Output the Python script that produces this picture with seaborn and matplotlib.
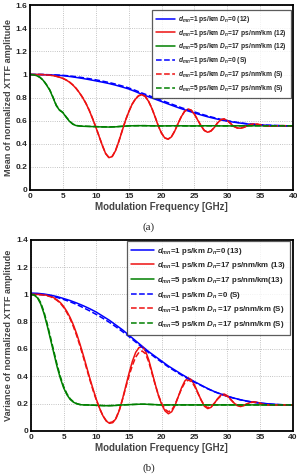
import numpy as np
import pandas as pd
import matplotlib
matplotlib.use('Agg')
import matplotlib.pyplot as plt
import seaborn as sns

# frequency grids [GHz]
freq_coarse = list(range(0, 41))
freq_fine = [i * 0.5 for i in range(81)]

# (a) mean of normalized XTTF amplitude
mean_blue_12 = [1.0, 1.0, 0.999, 0.997, 0.994, 0.99, 0.983, 0.975, 0.966, 0.956,
                0.945, 0.934, 0.922, 0.908, 0.892, 0.875, 0.853, 0.829, 0.808, 0.787,
                0.766, 0.745, 0.724, 0.704, 0.685, 0.667, 0.65, 0.634, 0.62, 0.607,
                0.596, 0.587, 0.579, 0.572, 0.567, 0.563, 0.56, 0.558, 0.557, 0.556, 0.556]
mean_blue_s = [1.0, 1.0, 1.0, 0.998, 0.996, 0.993, 0.988, 0.981, 0.973, 0.964,
               0.954, 0.943, 0.931, 0.917, 0.901, 0.884, 0.863, 0.84, 0.819, 0.797,
               0.776, 0.755, 0.734, 0.713, 0.694, 0.676, 0.658, 0.641, 0.626, 0.612,
               0.6, 0.59, 0.581, 0.574, 0.568, 0.564, 0.561, 0.559, 0.557, 0.556, 0.556]
mean_red_12 = [1.0, 1.0, 1.0, 1.0, 0.999, 0.997, 0.994, 0.99, 0.984, 0.976,
               0.966, 0.952, 0.934, 0.91, 0.88, 0.843, 0.80, 0.75, 0.69, 0.62,
               0.545, 0.465, 0.385, 0.315, 0.28, 0.29, 0.34, 0.42, 0.51, 0.6,
               0.675, 0.74, 0.785, 0.815, 0.825, 0.81, 0.77, 0.71, 0.635, 0.555,
               0.49, 0.45, 0.44, 0.46, 0.51, 0.575, 0.635, 0.68, 0.70, 0.69,
               0.655, 0.605, 0.555, 0.515, 0.50, 0.51, 0.54, 0.58, 0.608, 0.615,
               0.6, 0.575, 0.55, 0.537, 0.535, 0.542, 0.555, 0.566, 0.571, 0.57,
               0.564, 0.558, 0.554, 0.553, 0.554, 0.556, 0.557, 0.557, 0.556, 0.556, 0.556]
mean_red_s = [1.0, 1.0, 1.0, 1.0, 0.999, 0.997, 0.995, 0.991, 0.985, 0.977,
              0.967, 0.953, 0.935, 0.911, 0.881, 0.844, 0.801, 0.751, 0.691, 0.621,
              0.546, 0.466, 0.386, 0.316, 0.281, 0.291, 0.341, 0.421, 0.511, 0.601,
              0.676, 0.741, 0.787, 0.817, 0.827, 0.812, 0.772, 0.712, 0.637, 0.557,
              0.492, 0.451, 0.441, 0.461, 0.511, 0.576, 0.636, 0.682, 0.702, 0.692,
              0.657, 0.607, 0.556, 0.516, 0.501, 0.511, 0.541, 0.581, 0.609, 0.616,
              0.601, 0.576, 0.551, 0.538, 0.536, 0.543, 0.556, 0.567, 0.572, 0.571,
              0.565, 0.559, 0.555, 0.554, 0.555, 0.556, 0.557, 0.557, 0.556, 0.556, 0.556]
mean_green_12 = [1.0, 0.998, 0.99, 0.975, 0.95, 0.91, 0.865, 0.8, 0.73, 0.69,
                 0.67, 0.63, 0.595, 0.57, 0.558, 0.554, 0.552, 0.551, 0.55, 0.549,
                 0.548, 0.547, 0.546, 0.546, 0.545, 0.546, 0.547, 0.549, 0.551, 0.553,
                 0.555, 0.556, 0.556, 0.557, 0.557, 0.557, 0.556, 0.556, 0.555, 0.555,
                 0.555, 0.555, 0.556, 0.556, 0.556, 0.556, 0.556, 0.555, 0.555, 0.555,
                 0.555, 0.555, 0.556, 0.556, 0.556, 0.556, 0.556, 0.556, 0.555, 0.555,
                 0.555, 0.555, 0.555, 0.556, 0.556, 0.556, 0.556, 0.556, 0.556, 0.556,
                 0.556, 0.556, 0.556, 0.556, 0.556, 0.556, 0.556, 0.556, 0.556, 0.556, 0.556]
mean_green_s = [1.0, 0.998, 0.991, 0.977, 0.952, 0.913, 0.868, 0.804, 0.734, 0.693,
                0.672, 0.633, 0.598, 0.572, 0.559, 0.555, 0.553, 0.552, 0.551, 0.55,
                0.549, 0.548, 0.547, 0.547, 0.546, 0.547, 0.548, 0.55, 0.552, 0.554,
                0.556, 0.557, 0.557, 0.557, 0.557, 0.557, 0.556, 0.556, 0.556, 0.555,
                0.555, 0.555, 0.556, 0.556, 0.556, 0.556, 0.556, 0.556, 0.555, 0.555,
                0.555, 0.555, 0.556, 0.556, 0.556, 0.556, 0.556, 0.556, 0.556, 0.555,
                0.555, 0.555, 0.555, 0.556, 0.556, 0.556, 0.556, 0.556, 0.556, 0.556,
                0.556, 0.556, 0.556, 0.556, 0.556, 0.556, 0.556, 0.556, 0.556, 0.556, 0.556]

# (b) variance of normalized XTTF amplitude
var_blue_13 = [1.01, 1.008, 1.003, 0.995, 0.984, 0.97, 0.955, 0.937, 0.917, 0.895,
               0.87, 0.84, 0.81, 0.775, 0.74, 0.70, 0.66, 0.62, 0.58, 0.545,
               0.51, 0.475, 0.445, 0.415, 0.387, 0.36, 0.335, 0.31, 0.288, 0.27,
               0.254, 0.24, 0.228, 0.218, 0.21, 0.204, 0.199, 0.195, 0.192, 0.19, 0.19]
var_blue_s = [1.0, 1.0, 0.998, 0.99, 0.978, 0.963, 0.946, 0.926, 0.903, 0.879,
              0.853, 0.825, 0.795, 0.762, 0.727, 0.69, 0.651, 0.612, 0.573, 0.537,
              0.502, 0.468, 0.438, 0.409, 0.382, 0.356, 0.332, 0.308, 0.287, 0.269,
              0.253, 0.239, 0.227, 0.217, 0.209, 0.203, 0.198, 0.194, 0.192, 0.19, 0.19]
var_red_13 = [1.0, 1.0, 1.0, 0.999, 0.997, 0.993, 0.987, 0.976, 0.96, 0.94,
              0.912, 0.875, 0.83, 0.775, 0.71, 0.635, 0.555, 0.47, 0.385, 0.305,
              0.23, 0.165, 0.11, 0.072, 0.055, 0.06, 0.09, 0.15, 0.235, 0.33,
              0.425, 0.51, 0.575, 0.61, 0.617, 0.585, 0.52, 0.43, 0.34, 0.255,
              0.19, 0.145, 0.125, 0.14, 0.185, 0.25, 0.315, 0.365, 0.388, 0.375,
              0.335, 0.28, 0.225, 0.18, 0.163, 0.172, 0.2, 0.235, 0.262, 0.27,
              0.258, 0.232, 0.205, 0.185, 0.178, 0.184, 0.197, 0.208, 0.213, 0.21,
              0.203, 0.196, 0.191, 0.188, 0.188, 0.189, 0.19, 0.19, 0.19, 0.19, 0.19]
var_red_s = [1.0, 1.0, 1.0, 0.998, 0.995, 0.99, 0.983, 0.972, 0.956, 0.935,
             0.905, 0.866, 0.82, 0.763, 0.697, 0.622, 0.542, 0.458, 0.374, 0.296,
             0.224, 0.162, 0.11, 0.075, 0.06, 0.066, 0.095, 0.152, 0.232, 0.32,
             0.405, 0.48, 0.54, 0.575, 0.585, 0.565, 0.505, 0.42, 0.335, 0.258,
             0.198, 0.157, 0.14, 0.152, 0.192, 0.25, 0.308, 0.352, 0.372, 0.362,
             0.326, 0.275, 0.225, 0.185, 0.17, 0.177, 0.202, 0.232, 0.255, 0.262,
             0.252, 0.229, 0.205, 0.188, 0.182, 0.187, 0.198, 0.207, 0.21, 0.207,
             0.201, 0.195, 0.191, 0.189, 0.189, 0.19, 0.19, 0.19, 0.19, 0.19, 0.19]
var_green_13 = [1.0, 0.995, 0.975, 0.93, 0.86, 0.77, 0.67, 0.57, 0.47, 0.385,
                0.315, 0.265, 0.23, 0.21, 0.198, 0.192, 0.19, 0.19, 0.189, 0.188,
                0.187, 0.186, 0.185, 0.184, 0.184, 0.185, 0.186, 0.188, 0.19, 0.191,
                0.192, 0.193, 0.194, 0.195, 0.195, 0.195, 0.194, 0.193, 0.192, 0.191,
                0.19, 0.19, 0.19, 0.19, 0.19, 0.19, 0.19, 0.19, 0.19, 0.19,
                0.19, 0.19, 0.19, 0.19, 0.19, 0.19, 0.19, 0.19, 0.19, 0.19,
                0.19, 0.19, 0.19, 0.19, 0.19, 0.19, 0.19, 0.19, 0.19, 0.19,
                0.19, 0.19, 0.19, 0.19, 0.19, 0.19, 0.19, 0.19, 0.19, 0.19, 0.19]
var_green_s = [1.0, 0.997, 0.98, 0.94, 0.872, 0.784, 0.685, 0.585, 0.485, 0.398,
               0.325, 0.272, 0.235, 0.213, 0.2, 0.193, 0.19, 0.19, 0.189, 0.188,
               0.187, 0.186, 0.185, 0.185, 0.185, 0.186, 0.187, 0.189, 0.19, 0.191,
               0.192, 0.193, 0.194, 0.195, 0.195, 0.195, 0.194, 0.193, 0.192, 0.191,
               0.19, 0.19, 0.19, 0.19, 0.19, 0.19, 0.19, 0.19, 0.19, 0.19,
               0.19, 0.19, 0.19, 0.19, 0.19, 0.19, 0.19, 0.19, 0.19, 0.19,
               0.19, 0.19, 0.19, 0.19, 0.19, 0.19, 0.19, 0.19, 0.19, 0.19,
               0.19, 0.19, 0.19, 0.19, 0.19, 0.19, 0.19, 0.19, 0.19, 0.19, 0.19]

labels_a = [r'$d_{mn}$=1 ps/km $D_n$=0 (12)',
            r'$d_{mn}$=1 ps/km $D_n$=17 ps/nm/km (12)',
            r'$d_{mn}$=5 ps/km $D_n$=17 ps/nm/km (12)',
            r'$d_{mn}$=1 ps/km $D_n$=0 (S)',
            r'$d_{mn}$=1 ps/km $D_n$=17 ps/nm/km (S)',
            r'$d_{mn}$=5 ps/km $D_n$=17 ps/nm/km (S)']
labels_b = [r'$d_{mn}$=1 ps/km $D_n$=0 (13)',
            r'$d_{mn}$=1 ps/km $D_n$=17 ps/nm/km (13)',
            r'$d_{mn}$=5 ps/km $D_n$=17 ps/nm/km(13)',
            r'$d_{mn}$=1 ps/km $D_n$ =0 (S)',
            r'$d_{mn}$=1 ps/km $D_n$ =17 ps/nm/km (S)',
            r'$d_{mn}$=5 ps/km $D_n$ =17 ps/nm/km (S)']

sns.set_style('white')
plt.rcParams['font.family'] = ['Liberation Sans', 'DejaVu Sans']
plt.rcParams['font.weight'] = 'bold'
plt.rcParams['mathtext.fontset'] = 'custom'
plt.rcParams['mathtext.it'] = 'Liberation Sans:italic:bold'
plt.rcParams['mathtext.rm'] = 'Liberation Sans:bold'

blue, red, green = '#0000ff', '#ee1111', '#008000'
colors = [blue, red, green, blue, red, green]
styles = ['-', '-', '-', '--', '--', '--']

fig = plt.figure(figsize=(2.97, 4.75), dpi=100)
ax1 = fig.add_axes([0.101, 0.600, 0.886, 0.389])
ax2 = fig.add_axes([0.104, 0.093, 0.882, 0.402])


def draw(ax, series, labels, ymax, ylabel, legend_box, legsize, legspace):
    xs = [freq_coarse, freq_fine, freq_fine, freq_coarse, freq_fine, freq_fine]
    for x, y, c, ls, lab in zip(xs, series, colors, styles, labels):
        sns.lineplot(x=x, y=y, ax=ax, color=c, linestyle=ls, linewidth=1.1,
                     label=lab)
    ax.set_xlim(0, 40)
    ax.set_ylim(0, ymax)
    ax.set_xticks(range(0, 41, 5))
    yt = np.round(np.arange(0, ymax + 0.01, 0.2), 1)
    ax.set_yticks(yt)
    ax.set_yticklabels(['%g' % v for v in yt])
    ax.grid(True, linestyle=':', color='#b0b0b0', linewidth=0.6)
    ax.tick_params(direction='in', length=2, labelsize=6, pad=2)
    for lab in ax.get_xticklabels() + ax.get_yticklabels():
        lab.set_fontweight('bold')
    for s in ax.spines.values():
        s.set_linewidth(1.3)
        s.set_color('black')
    ax.set_xlabel('Modulation Frequency [GHz]', fontsize=7, fontweight='bold',
                  color='#444444', labelpad=1.5)
    ax.set_ylabel(ylabel, fontsize=6.6, fontweight='bold', color='#444444',
                  labelpad=2)
    leg = ax.legend(loc='upper right', bbox_to_anchor=legend_box, fontsize=legsize,
                    handlelength=2.8, frameon=True, fancybox=False,
                    borderpad=0.6, labelspacing=legspace, handletextpad=0.4,
                    borderaxespad=0)
    leg.get_frame().set_edgecolor('#333333')
    leg.get_frame().set_linewidth(0.9)


draw(ax1, [mean_blue_12, mean_red_12, mean_green_12, mean_blue_s, mean_red_s, mean_green_s],
     labels_a, 1.6, 'Mean of normalized XTTF amplitude', (0.99, 0.975), 4.8, 0.42)
draw(ax2, [var_blue_13, var_red_13, var_green_13, var_blue_s, var_red_s, var_green_s],
     labels_b, 1.4, 'Variance of normalized XTTF amplitude', (0.99, 0.995), 5.7, 0.46)

fig.text(0.5, 1 - 227 / 475, '(a)', ha='center', va='center', fontsize=8,
         family='Liberation Serif', fontweight='normal')
fig.text(0.5, 1 - 468 / 475, '(b)', ha='center', va='center', fontsize=8,
         family='Liberation Serif', fontweight='normal')

fig.savefig('out.png', dpi=100)
